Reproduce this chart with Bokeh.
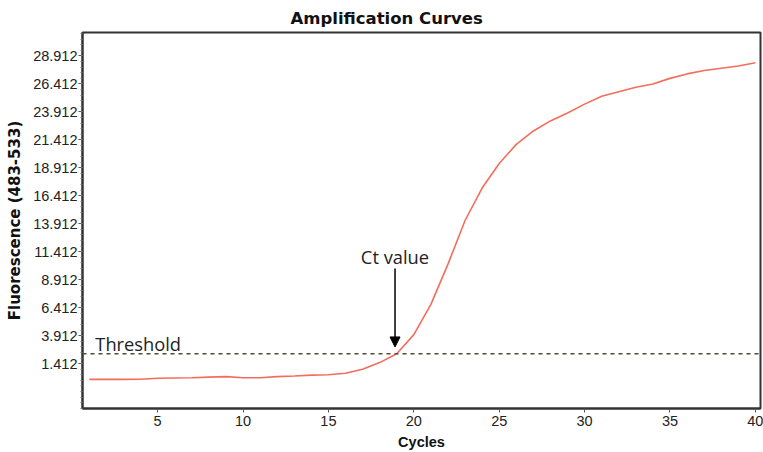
from bokeh.plotting import figure
from bokeh.models import FixedTicker, Arrow, NormalHead, Label, Span, Range1d
from bokeh.embed import file_html
from bokeh.resources import INLINE

# ---- data ----
cycles = list(range(1, 41))
fluorescence = [0.0, 0.0, 0.0, 0.02, 0.1, 0.13, 0.15, 0.2, 0.25, 0.15,
                0.15, 0.25, 0.3, 0.38, 0.42, 0.55, 0.9, 1.5, 2.3, 4.0,
                6.7, 10.3, 14.2, 17.1, 19.3, 21.0, 22.2, 23.1, 23.8, 24.6,
                25.3, 25.7, 26.1, 26.4, 26.9, 27.3, 27.6, 27.8, 28.0, 28.3]
threshold = 2.3
ct_cycle = 18.9
y_ticks = [1.412, 3.912, 6.412, 8.912, 11.412, 13.912, 16.412, 18.912,
           21.412, 23.912, 26.412, 28.912]
x_ticks = [5, 10, 15, 20, 25, 30, 35, 40]

p = figure(width=763, height=452, output_backend="svg", toolbar_location=None,
           x_range=Range1d(0.6, 40.3), y_range=Range1d(-2.6, 31.0),
           min_border_left=82, min_border_right=3, min_border_bottom=44,
           min_border_top=32)

p.title.text = "Amplification Curves"
p.title.text_font = "DejaVu Sans"
p.title.text_font_style = "bold"
p.title.text_font_size = "16.5px"
p.title.text_color = "#111111"
p.title.align = "left"
p.title.offset = 208
p.title.standoff = 9

p.grid.visible = False
p.outline_line_color = "#333333"
p.outline_line_width = 2

minor = [round(-2.588 + 0.5 * i, 3) for i in range(68)]
p.yaxis.ticker = FixedTicker(ticks=y_ticks, minor_ticks=minor)
p.xaxis.ticker = FixedTicker(ticks=x_ticks)

for ax in (p.xaxis[0], p.yaxis[0]):
    ax.axis_line_color = "#333333"
    ax.axis_line_width = 2
    ax.major_tick_line_color = "#555555"
    ax.minor_tick_line_color = "#777777"
    ax.major_tick_out = 4
    ax.major_tick_in = 0
    ax.minor_tick_out = 2
    ax.minor_tick_in = 0
    ax.major_label_text_font = "Liberation Sans"
    ax.major_label_text_font_size = "14.5px"
    ax.major_label_text_color = "#222222"
    ax.major_label_standoff = 1
    ax.axis_label_text_font_style = "bold"
    ax.axis_label_text_color = "#111111"

p.xaxis.minor_tick_line_color = None
p.xaxis.major_label_standoff = 3
p.xaxis.axis_label = "Cycles"
p.xaxis.axis_label_text_font = "Liberation Sans"
p.xaxis.axis_label_text_font_size = "14.5px"
p.xaxis.axis_label_standoff = 5

p.yaxis.axis_label = "Fluorescence (483-533)"
p.yaxis.axis_label_text_font = "DejaVu Sans"
p.yaxis.axis_label_text_font_size = "15px"
p.yaxis.axis_label_standoff = 6

p.line(cycles, fluorescence, line_color="#f36d5d", line_width=1.6)

p.add_layout(Span(location=threshold, dimension="width", line_color="#5a4a3a",
                  line_dash="4 4", line_width=1.5))

p.add_layout(Label(x=1.35, y=3.2, text="Threshold",
                   text_font="Open Sans", text_font_size="18.3px",
                   text_color="#222222", text_baseline="middle"))
p.add_layout(Label(x=16.9, y=10.95, text="Ct value",
                   text_font="Open Sans", text_font_size="18.3px",
                   text_color="#222222", text_baseline="middle"))
p.add_layout(Arrow(x_start=ct_cycle, y_start=9.9, x_end=ct_cycle, y_end=threshold + 0.6,
                   line_color="black", line_width=1.5,
                   end=NormalHead(size=10, fill_color="black", line_color="black")))

open("out.html", "w").write(file_html(p, INLINE))
